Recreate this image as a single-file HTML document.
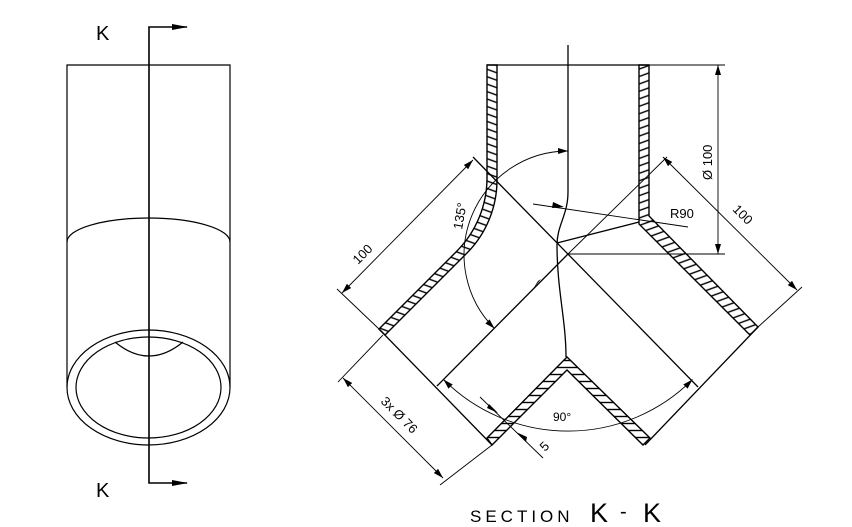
<!DOCTYPE html>
<html><head><meta charset="utf-8"><style>
html,body{margin:0;padding:0;background:#fff;}
svg{display:block;}
text{font-family:"Liberation Sans",sans-serif;fill:#000;}
</style></head><body>
<svg width="852" height="527" viewBox="0 0 852 527" xmlns="http://www.w3.org/2000/svg">
<defs>
<pattern id="h1" width="7" height="7" patternUnits="userSpaceOnUse" patternTransform="rotate(20)"><line x1="0" y1="3.5" x2="7" y2="3.5" stroke="#000" stroke-width="1.4"/></pattern>
<pattern id="h2" width="7" height="7" patternUnits="userSpaceOnUse" patternTransform="rotate(-20)"><line x1="0" y1="3.5" x2="7" y2="3.5" stroke="#000" stroke-width="1.4"/></pattern>
<pattern id="h3" width="7" height="7" patternUnits="userSpaceOnUse"><line x1="0" y1="3.5" x2="7" y2="3.5" stroke="#000" stroke-width="1.4"/></pattern>
<marker id="a" viewBox="0 0 10 6" refX="10" refY="3" markerWidth="10" markerHeight="6" markerUnits="userSpaceOnUse" orient="auto"><path d="M0,0 L10,3 L0,6 Z" fill="#000"/></marker>
<marker id="as" viewBox="0 0 10 6" refX="0" refY="3" markerWidth="10" markerHeight="6" markerUnits="userSpaceOnUse" orient="auto"><path d="M10,0 L0,3 L10,6 Z" fill="#000"/></marker>
</defs>

<g fill="none" stroke="#000" stroke-width="1.2">
<path d="M67,387 L67,65 L230,65 L230,387"/>
<path d="M67,242 A81.5,24 0 0 1 230,242"/>
<ellipse cx="148.5" cy="387.5" rx="81.5" ry="57.5"/>
<ellipse cx="148.5" cy="387.5" rx="72.5" ry="50.5"/>
<path d="M115,342 Q149,370 183,342"/>
<path d="M187,27 L149,27 L149,483 L187,483" stroke-width="1.6"/>
</g>
<path d="M172,24 L188,27 L172,30 Z M172,480 L188,483 L172,486 Z"/>
<text x="96" y="40" font-size="20">K</text>
<text x="96" y="497" font-size="20">K</text>

<path d="M487,65 L497,65 L497,180 A104,104 0 0 1 467,253 L385,335 L379,329 L456.5,251.5 A104,104 0 0 0 487,178 Z" fill="url(#h1)" stroke="#000" stroke-width="1.4"/>
<path d="M639,65 L649,65 L649,216 L758,327 L750,335 L639,224 Z" fill="url(#h2)" stroke="#000" stroke-width="1.4"/>
<path d="M487,438 L567,357 L650,438 L643,445 L567,370 L492,445 Z" fill="url(#h3)" stroke="#000" stroke-width="1.4"/>

<g fill="none" stroke="#000" stroke-width="1.3">
<line x1="487" y1="65" x2="649" y2="65"/>
<line x1="379" y1="329" x2="492" y2="445"/>
<line x1="758" y1="327" x2="645" y2="445"/>
<line x1="437" y1="386" x2="568" y2="254"/>
<line x1="473" y1="157" x2="698" y2="387"/>
<path d="M568,45 L568,192 C568,215 557,225 557,245 C557,290 566,320 566,357"/>
<line x1="557" y1="243" x2="639" y2="222"/>
</g>
<g fill="none" stroke="#000" stroke-width="0.9">
<line x1="649" y1="65" x2="725" y2="65"/>
<line x1="568" y1="254" x2="725" y2="254"/>
<line x1="568" y1="254" x2="667" y2="157"/>
<line x1="337" y1="289" x2="379" y2="329"/>
<line x1="758" y1="327" x2="802" y2="287"/>
<line x1="338" y1="382" x2="383" y2="335"/>
<line x1="492" y1="445" x2="440" y2="485"/>
<line x1="718" y1="65" x2="718" y2="254" marker-start="url(#as)" marker-end="url(#a)"/>
<line x1="342" y1="293" x2="473" y2="160" marker-start="url(#as)" marker-end="url(#a)"/>
<line x1="663" y1="157" x2="797" y2="290" marker-start="url(#as)" marker-end="url(#a)"/>
<line x1="343" y1="378" x2="443" y2="478" marker-start="url(#as)" marker-end="url(#a)"/>
<path d="M568,151 A104,104 0 0 0 494.5,328.5" marker-start="url(#as)" marker-end="url(#a)"/>
<path d="M443.5,379.5 A176,176 0 0 0 692.5,379.5" marker-start="url(#as)" marker-end="url(#a)"/>
<line x1="533" y1="204" x2="688" y2="227"/>
<line x1="480" y1="397" x2="543" y2="458"/>
</g>
<path d="M553,202 L564,207 L552,208 Z"/>
<path d="M541,279 L533,289 L538,281 Z"/>
<path d="M489,404 L498,413 L487,408 Z M526,442 L516,432 L527,437 Z"/>

<text font-size="13" transform="translate(712,180) rotate(-90)">Ø 100</text>
<text font-size="13" transform="translate(732,210) rotate(45)">100</text>
<text font-size="13" transform="translate(358,265) rotate(-45)">100</text>
<text font-size="13" transform="translate(462,230) rotate(-80)">135°</text>
<text font-size="13" x="670" y="218">R90</text>
<text font-size="12" x="553" y="421">90°</text>
<text font-size="13" transform="translate(380,402) rotate(45)">3x  Ø 76</text>
<text font-size="13" transform="translate(545,452) rotate(-45)">5</text>

<text x="470" y="522" font-size="17" letter-spacing="4">SECTION</text>
<text x="590" y="522" font-size="27">K</text>
<text x="620" y="518" font-size="20">-</text>
<text x="643" y="522" font-size="27">K</text>
</svg>
</body></html>
